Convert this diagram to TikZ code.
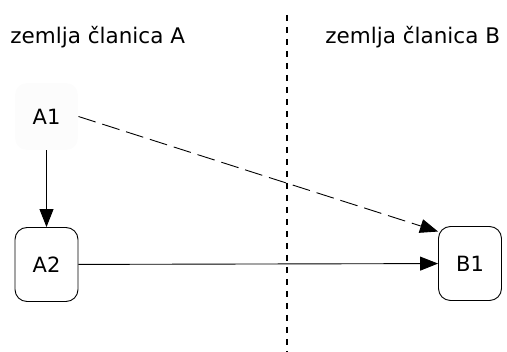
\documentclass[tikz,border=0pt]{standalone}
\usepackage{fontspec}
\setmainfont{DejaVu Sans}
\usetikzlibrary{arrows.meta}

\tikzset{
  drzava/.style={inner sep=0pt,font=\fontsize{21.5}{24}\selectfont},
  cvor/.style={draw,rounded corners=12pt,minimum width=63pt,minimum height=74pt,inner sep=0pt,font=\fontsize{21}{24}\selectfont},
}

\begin{document}
\begin{tikzpicture}[x=1pt,y=-1pt,line width=0.9pt,>={Triangle[length=18pt,width=14pt]}]
    \useasboundingbox (0,0) rectangle (507,352);
    \node[drzava,anchor=base west] (zA) at (10,44) {zemlja članica A};
    \node[drzava,anchor=base west] (zB) at (325,44) {zemlja članica B};
    \coordinate (gore) at (287,15);
    \coordinate (dolje) at (287,352);
    \draw[line width=1.2pt,dash pattern=on 6pt off 6pt] (gore) -- (dolje);
    \node[cvor,draw=none,fill=black!1,minimum height=67pt] (A1) at (46.5,116.5) {A1};
    \node[cvor] (A2) at (46.5,264.5) {A2};
    \node[cvor] (B1) at (470,263.5) {B1};
    \draw[->] (A1) -- (A2);
    \draw[->] (A2) -- (B1);
    \draw[->,dash pattern=on 18pt off 7pt] (A1.east) -- (B1.135);
\end{tikzpicture}
\end{document}
